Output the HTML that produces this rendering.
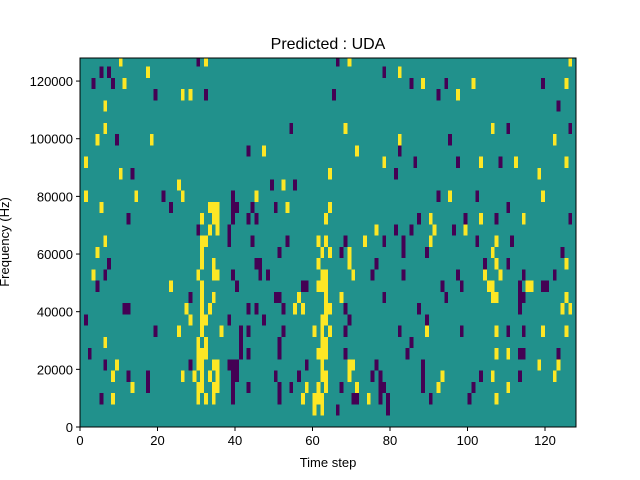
<!DOCTYPE html>
<html><head><meta charset="utf-8"><style>
html,body{margin:0;padding:0;background:#fff;}
svg{display:block;font-family:"Liberation Sans","DejaVu Sans",sans-serif;}
</style></head><body>
<svg id="chart" width="640" height="480" viewBox="0 0 640 480" xmlns="http://www.w3.org/2000/svg">
<defs><clipPath id="clip"><rect x="80" y="58" width="496" height="369"/></clipPath></defs>
<rect width="640" height="480" fill="#fff"/>
<text x="328" y="49" text-anchor="middle" font-size="16">Predicted : UDA</text>
<g id="plot" clip-path="url(#clip)"></g>
<g id="axes"></g>
<text x="328" y="467" text-anchor="middle" font-size="13">Time step</text>
<text transform="translate(9,242) rotate(-90)" text-anchor="middle" font-size="13">Frequency (Hz)</text>
</svg>
<script>
const timeSteps = 128;
const freqMax = 128000;
const binHz = 3906.25;
const xTicks = [0, 20, 40, 60, 80, 100, 120];
const yTicks = [0, 20000, 40000, 60000, 80000, 100000, 120000];
const yTickLabels = ["0", "20000", "40000", "60000", "80000", "100000", "120000"];
// purple = -1, indexed by frequency bin (row 0 = lowest)
const purpleRows = [
 [], [66,79], [5,39,51,70,71,77,79,90,100], [17,39,43,51,54,67,77,78,88,101],
 [12,17,39,40,50,56,75,77,88,103,113], [6,28,38,39,40,58,76,88],
 [2,41,43,51,68,84,113,114,123], [41,51,85], [19,41,43,52,68,82,98,110,114],
 [1,38,47,69,89], [11,12,43,45,52,68,87,113], [28,50,51,78,94,113,114],
 [4,40,57,58,93,98,113,119,120], [6,39,46,48,75,83,97,114,122],
 [7,45,46,76,104,110], [51,67,83,89,124], [38,44,53,68,78,83,102,111],
 [30,38,81,85,96], [12,39,43,45,87,99,107,126], [23,39,40,44,50,110],
 [21,39,92,102], [49,55], [13,81], [86,97,108], [43,82], [9,95],
 [54,110,126], [], [123], [19,32,65,92], [3,8,85,94,119], [5,7,78], [30,66]
];
// yellow = +1
const yellowRows = [
 [], [60,62], [8,30,32,34,57,60,61,62,74,107], [13,30,31,34,35,58,61,63,71,92,110],
 [8,26,29,31,33,35,62,63,69,93,106,122], [9,30,31,34,35,62,69,70,118,123],
 [30,31,32,61,62,63,107,110], [6,30,32,62,63], [25,31,36,60,62,64,89,107,119,125],
 [28,31,32,62,63], [27,31,33,55,57,63,64,124,126], [31,34,56,63,67,106,107,125],
 [23,31,61,62,63,105,106,115,116], [3,30,34,35,62,63,70,104,108],
 [31,34,61,69,107,125], [4,31,62,64,69,106], [6,31,32,61,63,73,90,107],
 [33,35,76,91,99], [31,34,35,63,90,103,114], [5,33,34,35,53,64],
 [1,14,26,45,95,119], [25,52], [10,64,118], [1,78,103,112,125], [47,71],
 [4,18,82,122], [6,68,106], [], [6], [26,28,97], [11,88,101,125], [17,82], [10,32,69,126]
];
const X0=80, X1=576, Y0=427, Y1=58;
const sx = t => X0 + (t/timeSteps)*(X1-X0);
const sy = f => Y0 - (f/freqMax)*(Y0-Y1);
const NS="http://www.w3.org/2000/svg";
const plot=document.getElementById('plot');
const axes=document.getElementById('axes');
function mk(tag, attrs, parent){const e=document.createElementNS(NS,tag);for(const k in attrs)e.setAttribute(k,attrs[k]);parent.appendChild(e);return e;}
const bg=mk('rect',{x:X0,y:Y1,width:X1-X0,height:Y0-Y1,fill:'#21918c'},plot);


function drawCells(rows,color,name){
  rows.forEach((cols,r)=>{
    cols.forEach(t=>{
      const x=sx(t), x2=sx(t+1), yTop=sy((r+1)*binHz), yBot=sy(r*binHz);
      const c=mk('rect',{x:x,y:yTop,width:x2-x,height:yBot-yTop,fill:color,'shape-rendering':'crispEdges'},plot);
      
      
    });
  });
}
drawCells(purpleRows,'#440154','heatmap-cell-low');
drawCells(yellowRows,'#fde725','heatmap-cell-high');
const frame=mk('rect',{x:X0,y:Y1,width:X1-X0,height:Y0-Y1,fill:'none',stroke:'#000','stroke-width':1},axes);


xTicks.forEach(v=>{
  const x=sx(v);
  const l=mk('line',{x1:x,x2:x,y1:Y0,y2:Y0+4,stroke:'#000'},axes);
  
  
  const tx=mk('text',{x:x,y:Y0+18,'text-anchor':'middle','font-size':13},axes);
  tx.textContent=String(v);
  
  
});
yTicks.forEach((v,i)=>{
  const y=sy(v);
  const l=mk('line',{x1:X0-4,x2:X0,y1:y,y2:y,stroke:'#000'},axes);
  
  
  const tx=mk('text',{x:X0-7,y:y+5,'text-anchor':'end','font-size':13},axes);
  tx.textContent=yTickLabels[i];
  
  
});
</script>
</body></html>
